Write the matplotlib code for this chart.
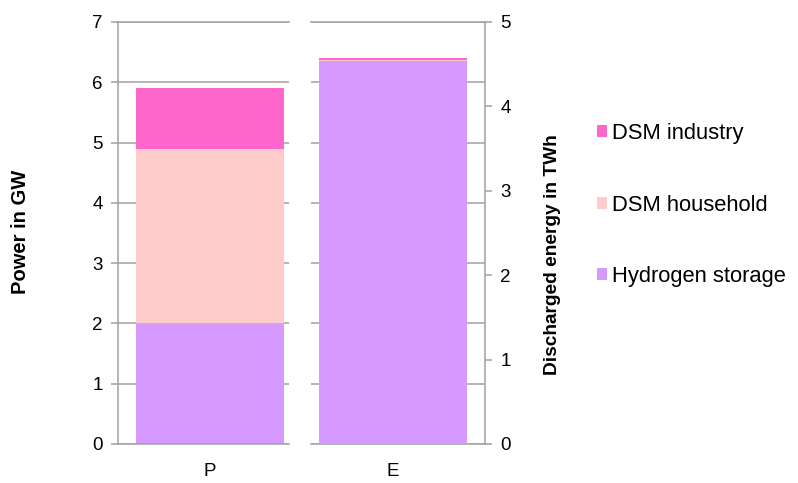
"""Installed power and discharged energy of flexibility options, stacked bars."""
import matplotlib.pyplot as plt
from matplotlib.patches import Patch

plt.rcParams["font.family"] = ["Liberation Sans", "DejaVu Sans"]

# data
series = ["Hydrogen storage", "DSM household", "DSM industry"]
colors = ["#D699FF", "#FFCCCC", "#FF66CC"]
power_gw = [2.0, 2.9, 1.0]          # P bar, left axis
energy_twh = [4.54, 0.01, 0.02]     # E bar, right axis
power_ticks = list(range(0, 8))
energy_ticks = list(range(0, 6))

GRAY = "#A0A0A0"
LW = 1.1
FS = 13.5

fig = plt.figure(figsize=(7.98, 4.83), dpi=100)
ax1 = fig.add_axes([118 / 798, 1 - 444 / 483, 171 / 798, 422 / 483])
ax2 = fig.add_axes([311 / 798, 1 - 444 / 483, 174 / 798, 422 / 483])
ax2r = ax2.twinx()


def style(ax):
    ax.set_ylim(0, 7)
    ax.set_yticks(power_ticks)
    ax.grid(axis="y", color=GRAY, linewidth=LW)
    ax.set_axisbelow(True)
    for side in ("top", "bottom"):
        ax.spines[side].set_color(GRAY)
        ax.spines[side].set_linewidth(LW)
    ax.tick_params(axis="x", length=0, pad=14, labelsize=FS)


style(ax1)
style(ax2)

# P bar on power axis
bottom = 0
for val, col in zip(power_gw, colors):
    ax1.bar(["P"], [val], bottom=bottom, width=1.0, color=col, zorder=2)
    bottom += val
ax1.set_xlim(-0.5 - 18 / 148, 0.5 + 5 / 148)
ax1.spines["right"].set_visible(False)
ax1.spines["left"].set_color(GRAY)
ax1.spines["left"].set_linewidth(LW)
ax1.tick_params(axis="y", direction="out", length=5, width=LW, color=GRAY,
                pad=6, labelsize=FS)
ax1.set_ylabel("Power in GW", fontsize=14.5, fontweight="bold")
ax1.yaxis.set_label_coords(-88 / 171, (444 - 232) / 422)

# E bar on energy axis
ax2.set_xlim(-0.5 - 8 / 148, 0.5 + 18 / 148)
ax2.bar(["E"], [0], width=1.0)
ax2.spines["left"].set_visible(False)
ax2.spines["right"].set_visible(False)
ax2.tick_params(axis="y", length=0, labelleft=False)

bottom = 0
for val, col in zip(energy_twh, colors):
    ax2r.bar(["E"], [val], bottom=bottom, width=1.0, color=col)
    bottom += val
ax2r.set_ylim(0, 5)
ax2r.set_yticks(energy_ticks)
for side in ("left", "top", "bottom"):
    ax2r.spines[side].set_visible(False)
ax2r.spines["right"].set_color(GRAY)
ax2r.spines["right"].set_linewidth(LW)
ax2r.tick_params(axis="y", direction="out", length=5, width=LW, color=GRAY,
                 pad=6, labelsize=FS)
ax2r.set_ylabel("Discharged energy in TWh", fontsize=13.8, fontweight="bold")
ax2r.yaxis.set_label_coords((544 - 311) / 174, (444 - 255) / 422)

# legend
handles = [Patch(facecolor=c, label=s) for s, c in zip(series, colors)][::-1]
fig.legend(handles=handles, loc="center left",
           bbox_to_anchor=(577 / 798, 1 - 205 / 483), frameon=False,
           fontsize=15.8, handlelength=0.45, handleheight=0.45,
           handletextpad=0.25, labelspacing=2.3)

fig.savefig("out.png", dpi=100)
